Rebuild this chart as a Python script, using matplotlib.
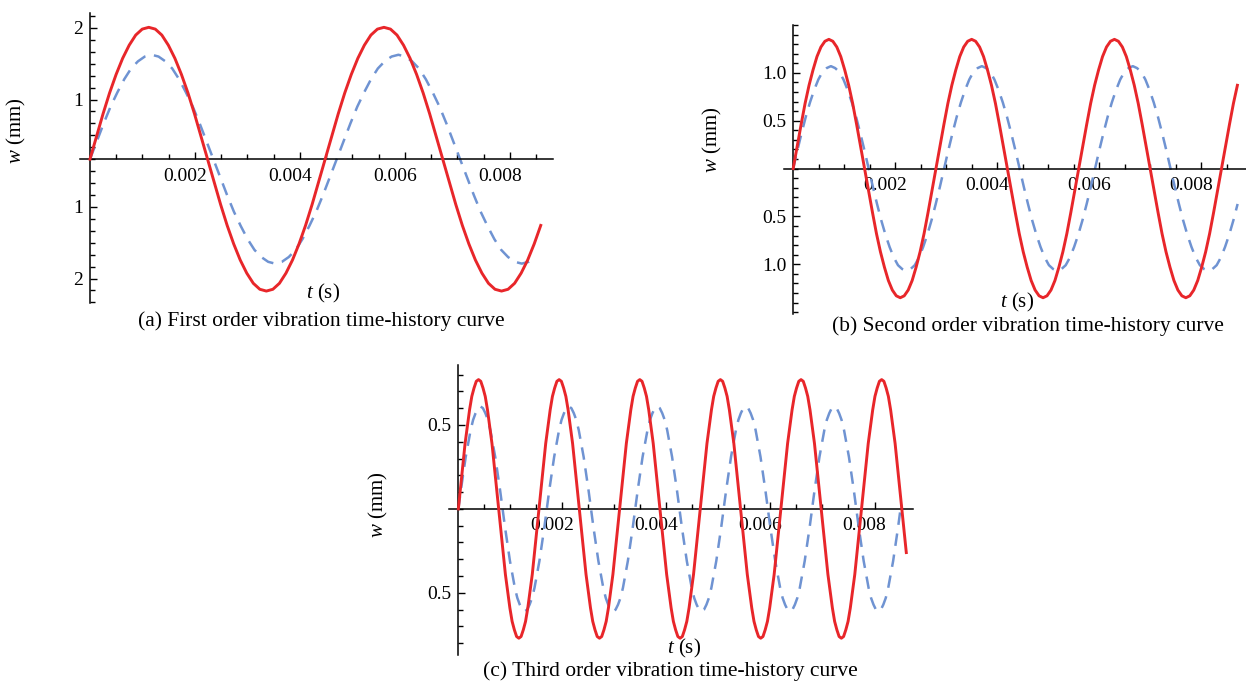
import numpy as np
import matplotlib.pyplot as plt
from matplotlib.ticker import MultipleLocator
from matplotlib.transforms import ScaledTranslation

plt.rcParams['font.family'] = ['Liberation Serif', 'DejaVu Serif']
plt.rcParams['mathtext.fontset'] = 'custom'
plt.rcParams['mathtext.rm'] = 'Liberation Serif'
plt.rcParams['mathtext.it'] = 'Liberation Serif:italic'

RED = '#e8262a'
BLUE = '#6f93d2'

# (a) first order: readings of w (mm), sampled at equal time steps (s)
dt_a_red = 0.00012444
dt_a_blue = 0.00013056
w_a_red = [
    0.00, 0.38, 0.76, 1.11, 1.42, 1.69, 1.91, 2.08, 2.18, 2.21, 2.18, 2.08, 1.91, 1.69, 1.42, 1.11, 0.76, 0.38,
    0.00, -0.38, -0.76, -1.11, -1.42, -1.69, -1.91, -2.08, -2.18, -2.21, -2.18, -2.08, -1.91, -1.69, -1.42, -1.11, -0.76, -0.38,
    0.00, 0.38, 0.76, 1.11, 1.42, 1.69, 1.91, 2.08, 2.18, 2.21, 2.18, 2.08, 1.91, 1.69, 1.42, 1.11, 0.76, 0.38,
    0.00, -0.38, -0.76, -1.11, -1.42, -1.69, -1.91, -2.08, -2.18, -2.21, -2.18, -2.08, -1.91, -1.69, -1.42, -1.11]
w_a_blue = [
    0.00, 0.30, 0.60, 0.88, 1.12, 1.34, 1.52, 1.64, 1.72, 1.75, 1.72, 1.64, 1.52, 1.34, 1.12, 0.88, 0.60, 0.30,
    0.00, -0.30, -0.60, -0.88, -1.12, -1.34, -1.52, -1.64, -1.72, -1.75, -1.72, -1.64, -1.52, -1.34, -1.12, -0.88, -0.60, -0.30,
    0.00, 0.30, 0.60, 0.88, 1.12, 1.34, 1.52, 1.64, 1.72, 1.75, 1.72, 1.64, 1.52, 1.34, 1.12, 0.88, 0.60, 0.30,
    0.00, -0.30, -0.60, -0.88, -1.12, -1.34, -1.52, -1.64, -1.72, -1.75, -1.72, -1.64]

# (b) second order
dt_b_red = 0.000077778
dt_b_blue = 0.000082222
w_b_red = [
    0.00, 0.23, 0.46, 0.68, 0.87, 1.03, 1.17, 1.27, 1.33, 1.35, 1.33, 1.27, 1.17, 1.03, 0.87, 0.68, 0.46, 0.23,
    0.00, -0.23, -0.46, -0.68, -0.87, -1.03, -1.17, -1.27, -1.33, -1.35, -1.33, -1.27, -1.17, -1.03, -0.87, -0.68, -0.46, -0.23,
    0.00, 0.23, 0.46, 0.68, 0.87, 1.03, 1.17, 1.27, 1.33, 1.35, 1.33, 1.27, 1.17, 1.03, 0.87, 0.68, 0.46, 0.23,
    0.00, -0.23, -0.46, -0.68, -0.87, -1.03, -1.17, -1.27, -1.33, -1.35, -1.33, -1.27, -1.17, -1.03, -0.87, -0.68, -0.46, -0.23,
    0.00, 0.23, 0.46, 0.68, 0.87, 1.03, 1.17, 1.27, 1.33, 1.35, 1.33, 1.27, 1.17, 1.03, 0.87, 0.68, 0.46, 0.23,
    0.00, -0.23, -0.46, -0.68, -0.87, -1.03, -1.17, -1.27, -1.33, -1.35, -1.33, -1.27, -1.17, -1.03, -0.87, -0.68, -0.46, -0.23,
    0.00, 0.23, 0.46, 0.68, 0.87]
w_b_blue = [
    0.00, 0.19, 0.37, 0.54, 0.69, 0.82, 0.93, 1.01, 1.05, 1.07, 1.05, 1.01, 0.93, 0.82, 0.69, 0.54, 0.37, 0.19,
    0.00, -0.19, -0.37, -0.54, -0.69, -0.82, -0.93, -1.01, -1.05, -1.07, -1.05, -1.01, -0.93, -0.82, -0.69, -0.54, -0.37, -0.19,
    0.00, 0.19, 0.37, 0.54, 0.69, 0.82, 0.93, 1.01, 1.05, 1.07, 1.05, 1.01, 0.93, 0.82, 0.69, 0.54, 0.37, 0.19,
    0.00, -0.19, -0.37, -0.54, -0.69, -0.82, -0.93, -1.01, -1.05, -1.07, -1.05, -1.01, -0.93, -0.82, -0.69, -0.54, -0.37, -0.19,
    0.00, 0.19, 0.37, 0.54, 0.69, 0.82, 0.93, 1.01, 1.05, 1.07, 1.05, 1.01, 0.93, 0.82, 0.69, 0.54, 0.37, 0.19,
    0.00, -0.19, -0.37, -0.54, -0.69, -0.82, -0.93, -1.01, -1.05, -1.07, -1.05, -1.01, -0.93, -0.82, -0.69, -0.54, -0.37]

# (c) third order
dt_c_red = 0.000043056
dt_c_blue = 0.000047222
w_c_red = [
    0.00, 0.13, 0.26, 0.39, 0.49, 0.59, 0.67, 0.72, 0.76, 0.77, 0.76, 0.72, 0.67, 0.59, 0.49, 0.39, 0.26, 0.13,
    0.00, -0.13, -0.26, -0.39, -0.49, -0.59, -0.67, -0.72, -0.76, -0.77, -0.76, -0.72, -0.67, -0.59, -0.49, -0.39, -0.26, -0.13,
    0.00, 0.13, 0.26, 0.39, 0.49, 0.59, 0.67, 0.72, 0.76, 0.77, 0.76, 0.72, 0.67, 0.59, 0.49, 0.39, 0.26, 0.13,
    0.00, -0.13, -0.26, -0.39, -0.49, -0.59, -0.67, -0.72, -0.76, -0.77, -0.76, -0.72, -0.67, -0.59, -0.49, -0.39, -0.26, -0.13,
    0.00, 0.13, 0.26, 0.39, 0.49, 0.59, 0.67, 0.72, 0.76, 0.77, 0.76, 0.72, 0.67, 0.59, 0.49, 0.39, 0.26, 0.13,
    0.00, -0.13, -0.26, -0.39, -0.49, -0.59, -0.67, -0.72, -0.76, -0.77, -0.76, -0.72, -0.67, -0.59, -0.49, -0.39, -0.26, -0.13,
    0.00, 0.13, 0.26, 0.39, 0.49, 0.59, 0.67, 0.72, 0.76, 0.77, 0.76, 0.72, 0.67, 0.59, 0.49, 0.39, 0.26, 0.13,
    0.00, -0.13, -0.26, -0.39, -0.49, -0.59, -0.67, -0.72, -0.76, -0.77, -0.76, -0.72, -0.67, -0.59, -0.49, -0.39, -0.26, -0.13,
    0.00, 0.13, 0.26, 0.39, 0.49, 0.59, 0.67, 0.72, 0.76, 0.77, 0.76, 0.72, 0.67, 0.59, 0.49, 0.39, 0.26, 0.13,
    0.00, -0.13, -0.26, -0.39, -0.49, -0.59, -0.67, -0.72, -0.76, -0.77, -0.76, -0.72, -0.67, -0.59, -0.49, -0.39, -0.26, -0.13,
    0.00, 0.13, 0.26, 0.39, 0.49, 0.59, 0.67, 0.72, 0.76, 0.77, 0.76, 0.72, 0.67, 0.59, 0.49, 0.39, 0.26, 0.13,
    0.00, -0.13, -0.26]
w_c_blue = [
    0.00, 0.11, 0.21, 0.31, 0.39, 0.47, 0.53, 0.57, 0.60, 0.61, 0.60, 0.57, 0.53, 0.47, 0.39, 0.31, 0.21, 0.11,
    0.00, -0.11, -0.21, -0.31, -0.39, -0.47, -0.53, -0.57, -0.60, -0.61, -0.60, -0.57, -0.53, -0.47, -0.39, -0.31, -0.21, -0.11,
    0.00, 0.11, 0.21, 0.31, 0.39, 0.47, 0.53, 0.57, 0.60, 0.61, 0.60, 0.57, 0.53, 0.47, 0.39, 0.31, 0.21, 0.11,
    0.00, -0.11, -0.21, -0.31, -0.39, -0.47, -0.53, -0.57, -0.60, -0.61, -0.60, -0.57, -0.53, -0.47, -0.39, -0.31, -0.21, -0.11,
    0.00, 0.11, 0.21, 0.31, 0.39, 0.47, 0.53, 0.57, 0.60, 0.61, 0.60, 0.57, 0.53, 0.47, 0.39, 0.31, 0.21, 0.11,
    0.00, -0.11, -0.21, -0.31, -0.39, -0.47, -0.53, -0.57, -0.60, -0.61, -0.60, -0.57, -0.53, -0.47, -0.39, -0.31, -0.21, -0.11,
    0.00, 0.11, 0.21, 0.31, 0.39, 0.47, 0.53, 0.57, 0.60, 0.61, 0.60, 0.57, 0.53, 0.47, 0.39, 0.31, 0.21, 0.11,
    0.00, -0.11, -0.21, -0.31, -0.39, -0.47, -0.53, -0.57, -0.60, -0.61, -0.60, -0.57, -0.53, -0.47, -0.39, -0.31, -0.21, -0.11,
    0.00, 0.11, 0.21, 0.31, 0.39, 0.47, 0.53, 0.57, 0.60, 0.61, 0.60, 0.57, 0.53, 0.47, 0.39, 0.31, 0.21, 0.11,
    0.00, -0.11, -0.21, -0.31, -0.39, -0.47, -0.53, -0.57, -0.60, -0.61, -0.60, -0.57, -0.53, -0.47, -0.39, -0.31, -0.21, -0.11,
    0.00]

x_ticks = [0.002, 0.004, 0.006, 0.008]
x_tick_labels = ['0.002', '0.004', '0.006', '0.008']
captions = ['(a) First order vibration time-history curve',
            '(b) Second order vibration time-history curve',
            '(c) Third order vibration time-history curve']

W, H = 1246, 682
fig = plt.figure(figsize=(W / 100, H / 100), dpi=100)


def px_ax(left, top, right, bottom):
    return fig.add_axes([left / W, 1 - bottom / H, (right - left) / W, (bottom - top) / H])


def style(ax, xlim, ylim, yticks, ylabels, yminor):
    ax.set_xlim(xlim)
    ax.set_ylim(ylim)
    ax.patch.set_visible(False)
    for s in ['top', 'right']:
        ax.spines[s].set_visible(False)
    for s in ['left', 'bottom']:
        ax.spines[s].set_position(('data', 0))
        ax.spines[s].set_linewidth(1.1)
    ax.set_xticks(x_ticks)
    ax.set_xticklabels(x_tick_labels)
    ax.xaxis.set_minor_locator(MultipleLocator(0.0005))
    ax.set_yticks(yticks)
    ax.set_yticklabels(ylabels)
    ax.yaxis.set_minor_locator(MultipleLocator(yminor))
    ax.tick_params(which='both', direction='in', labelsize=14, width=1)
    ax.tick_params(which='major', length=5)
    ax.tick_params(which='minor', length=3.5)
    ax.tick_params(axis='x', pad=6)
    ax.tick_params(axis='y', pad=5)
    off = ScaledTranslation(-0.1, 0, fig.dpi_scale_trans)
    for lbl in ax.get_xticklabels():
        lbl.set_transform(lbl.get_transform() + off)


def draw(ax, dt_r, w_r, dt_b, w_b):
    t_r = np.arange(len(w_r)) * dt_r
    t_b = np.arange(len(w_b)) * dt_b
    ax.plot(t_b, w_b, color=BLUE, lw=1.8, dashes=(5, 3.5), zorder=2)
    ax.plot(t_r, w_r, color=RED, lw=2.1, zorder=3)


# panel (a)
ax1 = px_ax(80, 13, 553, 303)
draw(ax1, dt_a_red, w_a_red, dt_a_blue, w_a_blue)
style(ax1, (-0.00019, 0.00882), (-2.41, 2.45), [2.2, 1.0, -0.8, -2.0], ['2', '1', '1', '2'], 0.2)

# panel (b)
ax2 = px_ax(784, 25, 1246, 314)
draw(ax2, dt_b_red, w_b_red, dt_b_blue, w_b_blue)
style(ax2, (-0.00018, 0.00888), (-1.52, 1.50), [1.0, 0.5, -0.5, -1.0], ['1.0', '0.5', '0.5', '1.0'], 0.1)

# panel (c)
ax3 = px_ax(449, 365, 913, 655)
draw(ax3, dt_c_red, w_c_red, dt_c_blue, w_c_blue)
style(ax3, (-0.00018, 0.00874), (-0.87, 0.857), [0.5, -0.5], ['0.5', '0.5'], 0.1)


def ftext(x, y, s, **kw):
    fig.text(x / W, 1 - y / H, s, ha='center', va='center', **kw)


for (yx, yy), (tx, ty), (cx, cy), cap in zip(
        [(16, 131), (712, 140), (378, 505)],
        [(323, 293), (1017, 302), (684, 648)],
        [(321, 321), (1028, 326), (670, 671)],
        captions):
    ftext(yx, yy, r'$w$ (mm)', rotation=90, fontsize=15)
    ftext(tx, ty, r'$t$ (s)', fontsize=15)
    ftext(cx, cy, cap, fontsize=15.5)

fig.savefig('out.png', dpi=100)
